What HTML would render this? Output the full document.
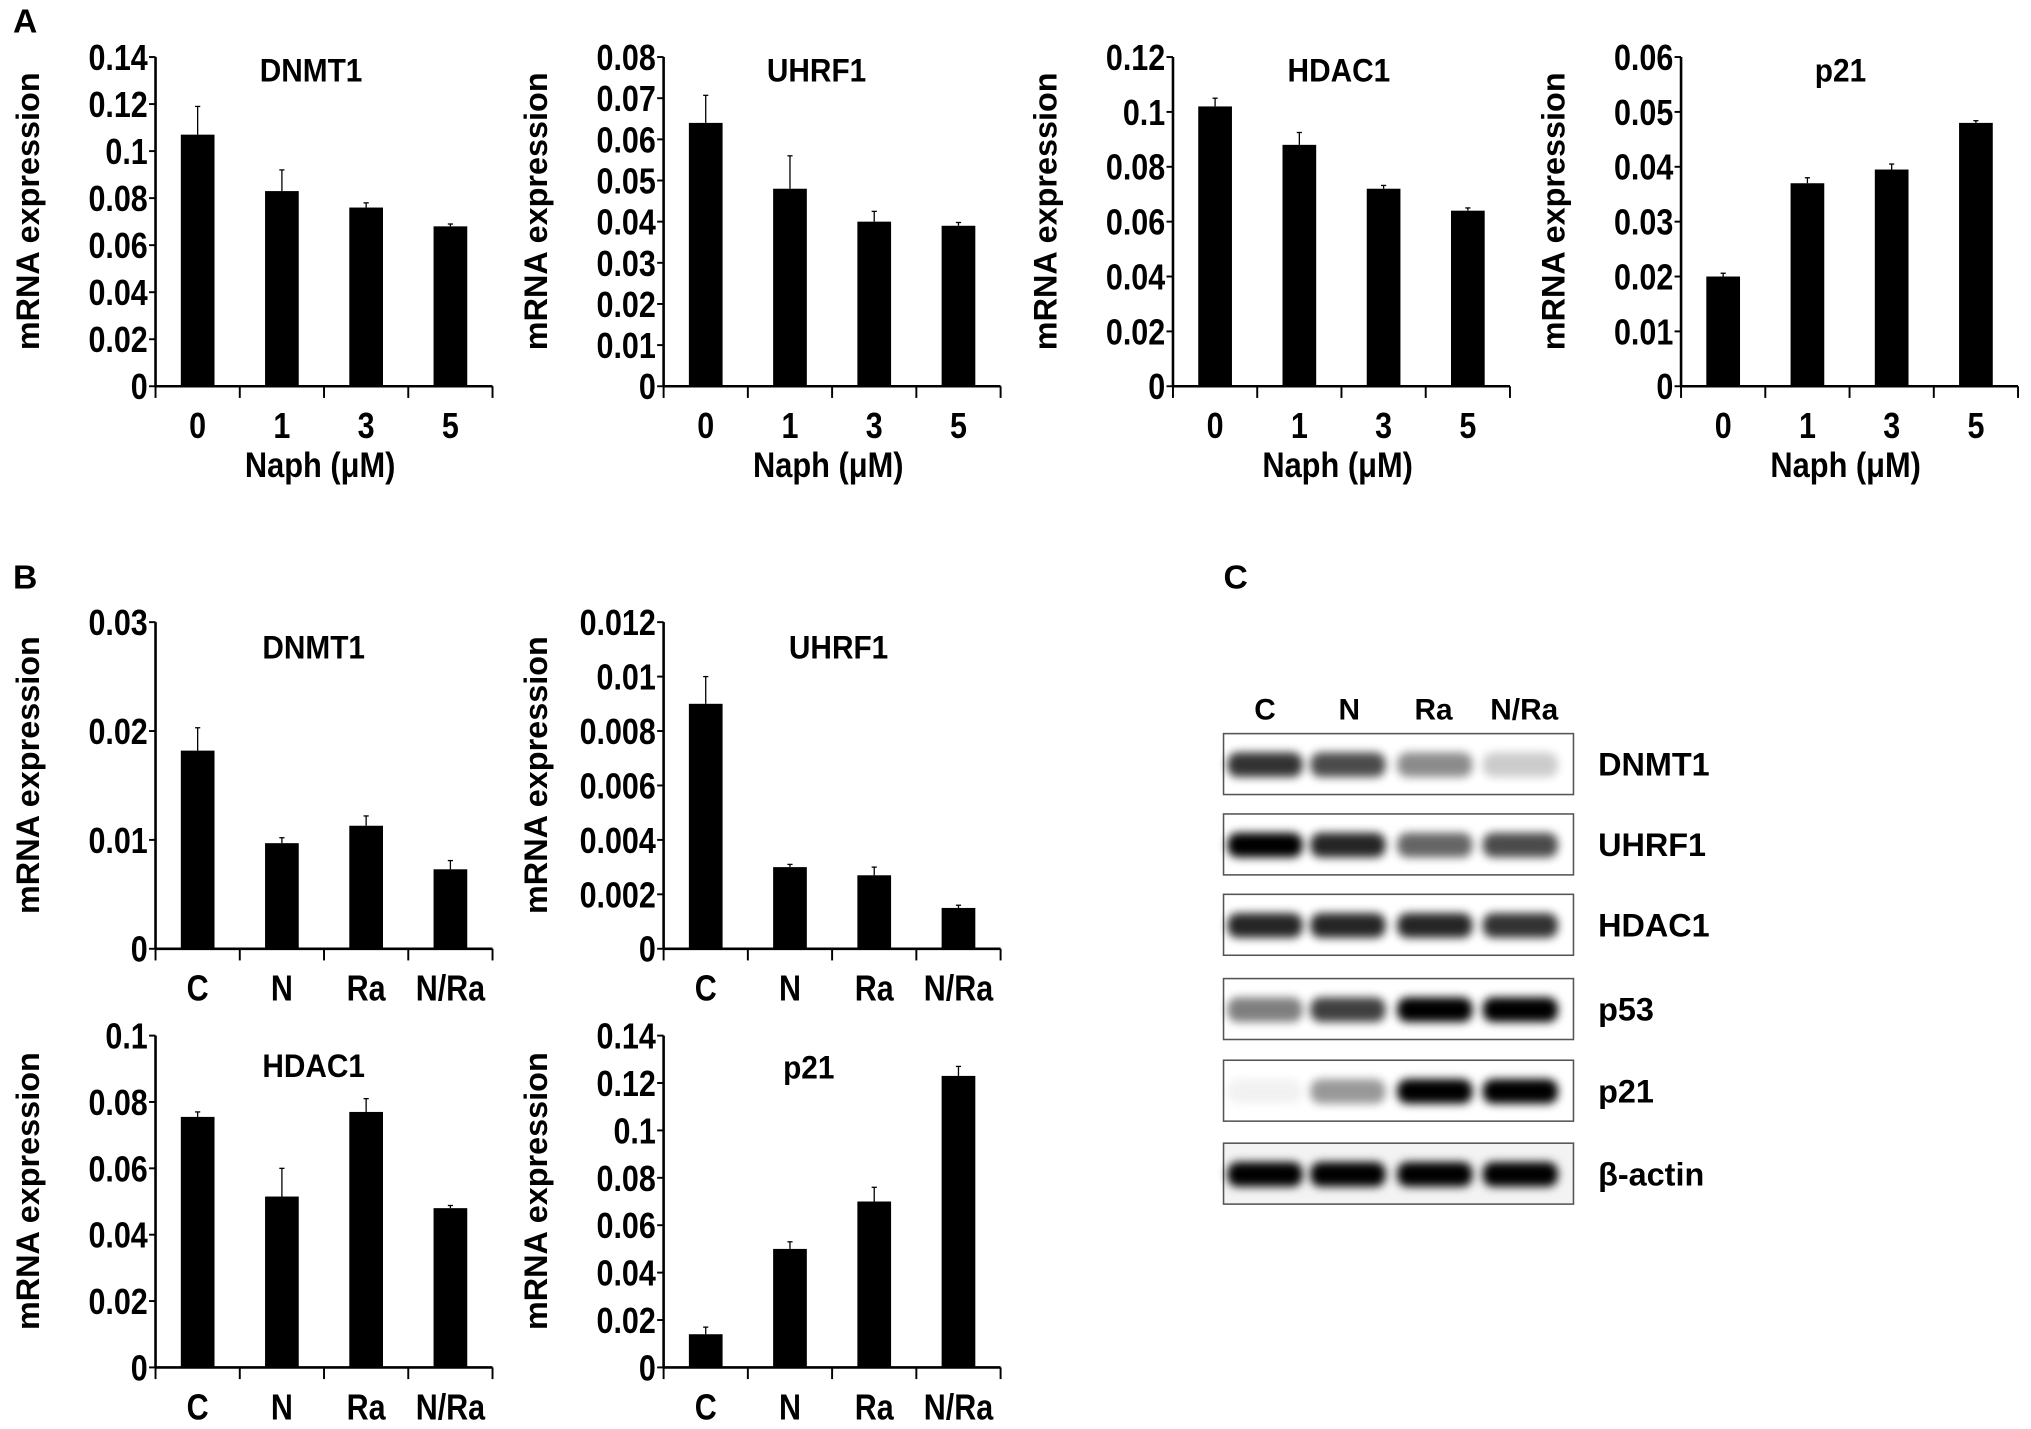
<!DOCTYPE html>
<html><head><meta charset="utf-8"><style>
html,body{margin:0;padding:0;background:#fff;}
svg{display:block;}
text{font-family:"Liberation Sans",sans-serif;font-weight:bold;fill:#000;}
.tk{font-family:"Liberation Sans Narrow","Liberation Sans",sans-serif;font-size:28px;}
</style></head><body>
<svg id="fig" width="2031" height="1429" viewBox="0 0 1567 1102.5" xmlns="http://www.w3.org/2000/svg">
<defs><filter id="blur" x="-30%" y="-80%" width="160%" height="260%"><feGaussianBlur stdDeviation="3.5"/></filter></defs>
<text x="10" y="25" font-size="26">A</text>
<text x="10" y="454" font-size="26">B</text>
<text x="944" y="454" font-size="26">C</text>
<g id="charts"></g>
<g id="blots"></g>
</svg>
<script>
const NS="http://www.w3.org/2000/svg";
// ---- chart data ----
const catsA=["0","1","3","5"];
const catsB=["C","N","Ra","N/Ra"];
const aDNMT1=[0.107,0.083,0.076,0.068];
const aDNMT1Err=[0.012,0.009,0.002,0.001];
const aUHRF1=[0.064,0.048,0.040,0.039];
const aUHRF1Err=[0.0067,0.008,0.0025,0.0008];
const aHDAC1=[0.102,0.088,0.072,0.064];
const aHDAC1Err=[0.003,0.0045,0.0012,0.001];
const aP21=[0.020,0.037,0.0395,0.048];
const aP21Err=[0.0006,0.001,0.001,0.0004];
const bDNMT1=[0.0182,0.0097,0.0113,0.0073];
const bDNMT1Err=[0.0021,0.0005,0.0009,0.0008];
const bUHRF1=[0.009,0.003,0.0027,0.0015];
const bUHRF1Err=[0.001,0.0001,0.0003,0.0001];
const bHDAC1=[0.0755,0.0515,0.077,0.048];
const bHDAC1Err=[0.0015,0.0085,0.004,0.0008];
const bP21=[0.014,0.050,0.070,0.123];
const bP21Err=[0.003,0.003,0.006,0.004];
const ticksA1=["0","0.02","0.04","0.06","0.08","0.1","0.12","0.14"];
const ticksA2=["0","0.01","0.02","0.03","0.04","0.05","0.06","0.07","0.08"];
const ticksA3=["0","0.02","0.04","0.06","0.08","0.1","0.12"];
const ticksA4=["0","0.01","0.02","0.03","0.04","0.05","0.06"];
const ticksB1=["0","0.01","0.02","0.03"];
const ticksB2=["0","0.002","0.004","0.006","0.008","0.01","0.012"];
const ticksB3=["0","0.02","0.04","0.06","0.08","0.1"];
const ticksB4=["0","0.02","0.04","0.06","0.08","0.1","0.12","0.14"];

function mk(tag,attrs,parent,txt){const e=document.createElementNS(NS,tag);for(const k in attrs)e.setAttribute(k,attrs[k]);if(txt!==undefined)e.textContent=txt;parent.appendChild(e);return e;}
function narrow(parent,x,y,anchor,size,sx,txt){
  return mk("text",{x:0,y:0,"text-anchor":anchor,"font-size":size,transform:`translate(${x} ${y}) scale(${sx} 1)`},parent,txt);
}

function chart(o){
  const g=mk("g",{},document.getElementById("charts"));
  
  
  const x0=o.x,x1=o.x+260,yT=o.yTop,y0=o.y0;
  const tv=o.ticks.map(Number),max=tv[tv.length-1];
  const ys=v=>y0-(v/max)*(y0-yT);
  const band=(x1-x0)/o.cats.length;
  const xs=i=>x0+band*(i+0.5);
  const yl=mk("line",{x1:x0,y1:yT,x2:x0,y2:y0,stroke:"#000","stroke-width":2},g);
  
  
  const xl=mk("line",{x1:x0,y1:y0,x2:x1,y2:y0,stroke:"#000","stroke-width":2},g);
  
  
  o.ticks.forEach((t,i)=>{
    const y=ys(tv[i]);
    mk("line",{x1:x0-5,y1:y,x2:x0,y2:y,stroke:"#000","stroke-width":1.5},g);
    const tx=narrow(g,x0-6,y+10,"end",28,0.84,t);
    
    
  });
  for(let i=0;i<=o.cats.length;i++){mk("line",{x1:x0+band*i,y1:y0,x2:x0+band*i,y2:y0+9,stroke:"#000","stroke-width":1.5},g);}
  o.cats.forEach((c,i)=>{
    const tx=narrow(g,xs(i),y0+40,"middle",28,0.84,c);
    
    
  });
  o.vals.forEach((v,i)=>{
    const w=26,e=o.err[i];
    mk("line",{x1:xs(i),y1:ys(v+e),x2:xs(i),y2:ys(v),stroke:"#000","stroke-width":1},g);
    mk("line",{x1:xs(i)-2,y1:ys(v+e),x2:xs(i)+2,y2:ys(v+e),stroke:"#000","stroke-width":1},g);
    const r=mk("rect",{x:xs(i)-w/2,y:ys(v),width:w,height:y0-ys(v),fill:"#000"},g);
    
    
  });
  const t=narrow(g,o.tx,o.ty,"middle",25,0.92,o.title);
  
  
  const cy=(yT+y0)/2-8;
  const yt=mk("text",{x:o.x-90,y:cy,"text-anchor":"middle","font-size":25,transform:`rotate(-90 ${o.x-90} ${cy})`},g,"mRNA expression");
  
  
  if(o.xt){const xt=narrow(g,(x0+x1)/2-3,y0+70,"middle",27,0.88,o.xt);
    
    }
}
chart({name:"chart-a-dnmt1",x:120,yTop:44,y0:298,ticks:ticksA1,cats:catsA,vals:aDNMT1,err:aDNMT1Err,title:"DNMT1",tx:240,ty:63,xt:"Naph (μM)"});
chart({name:"chart-a-uhrf1",x:512,yTop:44,y0:298,ticks:ticksA2,cats:catsA,vals:aUHRF1,err:aUHRF1Err,title:"UHRF1",tx:630,ty:63,xt:"Naph (μM)"});
chart({name:"chart-a-hdac1",x:905,yTop:44,y0:298,ticks:ticksA3,cats:catsA,vals:aHDAC1,err:aHDAC1Err,title:"HDAC1",tx:1033,ty:63,xt:"Naph (μM)"});
chart({name:"chart-a-p21",x:1297,yTop:44,y0:298,ticks:ticksA4,cats:catsA,vals:aP21,err:aP21Err,title:"p21",tx:1420,ty:63,xt:"Naph (μM)"});
chart({name:"chart-b-dnmt1",x:120,yTop:480,y0:732,ticks:ticksB1,cats:catsB,vals:bDNMT1,err:bDNMT1Err,title:"DNMT1",tx:242,ty:508});
chart({name:"chart-b-uhrf1",x:512,yTop:480,y0:732,ticks:ticksB2,cats:catsB,vals:bUHRF1,err:bUHRF1Err,title:"UHRF1",tx:647,ty:508});
chart({name:"chart-b-hdac1",x:120,yTop:799,y0:1055,ticks:ticksB3,cats:catsB,vals:bHDAC1,err:bHDAC1Err,title:"HDAC1",tx:242,ty:831});
chart({name:"chart-b-p21",x:512,yTop:799,y0:1055,ticks:ticksB4,cats:catsB,vals:bP21,err:bP21Err,title:"p21",tx:624,ty:832});

// ---- western blot ----
const blotNames=["DNMT1","UHRF1","HDAC1","p53","p21","β-actin"];
const blotIntensity=[[0.8,0.7,0.45,0.2],[1,0.85,0.6,0.7],[0.85,0.85,0.85,0.8],[0.5,0.75,1,1],[0.05,0.4,1,1],[1,1,1,1]];
const lanes=["C","N","Ra","N/Ra"];
(function(){
  const g=document.getElementById("blots");
  const bx=944,bw=270,laneX=[976,1040,1107,1173],rowY=[566,628,690,755,818,882],rh=47;
  const hx=[976,1041,1106,1176];
  lanes.forEach((l,i)=>{const t=mk("text",{x:hx[i],y:555,"text-anchor":"middle","font-size":23},g,l);
    
    });
  blotNames.forEach((n,r)=>{
    const rg=mk("g",{},g);
    
    
    mk("rect",{x:bx,y:rowY[r],width:bw,height:rh,fill:r==5?"#f3f3f3":"#fff",stroke:"#555","stroke-width":1.2},rg);
    blotIntensity[r].forEach((v,i)=>{
      mk("rect",{x:laneX[i]-29,y:rowY[r]+rh/2-9,width:58,height:19,rx:8,fill:"#000",opacity:v,filter:"url(#blur)"},rg);
    });
    const t=mk("text",{x:1233,y:rowY[r]+rh/2+9,"font-size":25},rg,n);
    
    
  });
})();
</script>
</body></html>
